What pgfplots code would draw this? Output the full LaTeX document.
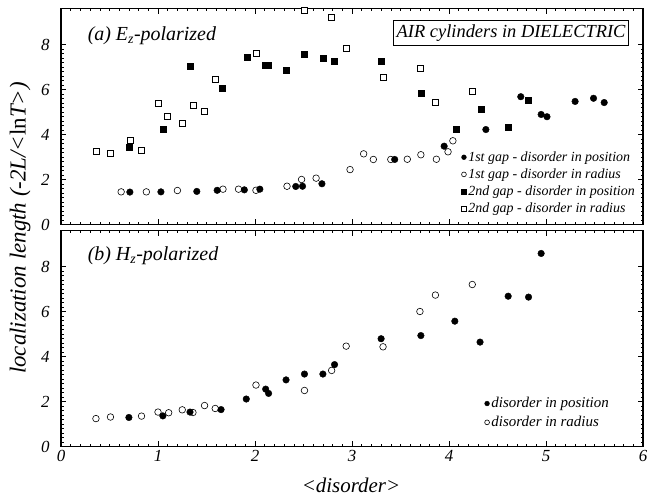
\documentclass[border=0pt]{standalone}
\usepackage{fontspec}
\setmainfont{Liberation Serif}
\usepackage{pgfplots}
\pgfplotsset{compat=1.18}
\begin{document}
\begin{tikzpicture}
\pgfplotsset{
 panel/.style={
  width=582bp, height=216bp, scale only axis,
  xmin=0, xmax=6, ymin=0, ymax=9.6,
  xtick={0,1,...,6}, ytick={0,2,4,6,8},
  yticklabels={0,2,4,6,8},
  minor x tick num=9, minor y tick num=9,
  tick align=inside, major tick length=5bp, minor tick length=2.5bp,
  tick style={black, line width=0.5pt},
  axis line style={line width=1.3pt},
  tick label style={font=\fontsize{17}{17}\selectfont\itshape},
  yticklabel style={xshift=-8bp},
  anchor=north west,
  clip=false,
  legend cell align=left,
  legend image code/.code={\draw[mark repeat=2,mark phase=2,##1,mark size=2.4bp] plot coordinates {(0cm,0cm)(0.12cm,0cm)(0.24cm,0cm)};},
 },
 pos1/.style={only marks, mark=*, mark size=3.3bp, mark options={draw=black, fill=black}},
 rad1/.style={only marks, mark=*, mark size=3.3bp, mark options={draw=black, fill=white, line width=0.6pt}},
 pos2/.style={only marks, mark=square*, mark size=3bp, mark options={draw=black, fill=black}},
 rad2/.style={only marks, mark=square*, mark size=3bp, mark options={draw=black, fill=white, line width=0.6pt}},
}
% ---------------- top panel ----------------
\begin{axis}[panel, at={(61bp,-8.5bp)}, xticklabels={},
  legend style={at={(rel axis cs:1,0)}, anchor=south east, xshift=-3bp, yshift=6bp,
    draw=none, fill=none, font=\fontsize{14}{14}\selectfont\itshape, row sep=2bp}]
\addplot[rad2, forget plot] coordinates {(0.36,3.24)(0.51,3.17)(0.71,3.72)(0.83,3.29)(1.00,5.38)(1.10,4.83)(1.25,4.48)(1.36,5.29)(1.48,5.05)(1.59,6.44)(2.01,7.60)(2.51,9.51)(2.79,9.19)(2.94,7.81)(3.32,6.56)(3.70,6.96)(3.86,5.45)(4.24,5.90)};
\addplot[pos2, forget plot] coordinates {(0.70,3.45)(1.05,4.22)(1.33,7.04)(1.66,6.06)(1.92,7.45)(2.11,7.10)(2.14,7.07)(2.32,6.84)(2.51,7.59)(2.70,7.38)(2.82,7.26)(3.30,7.26)(3.71,5.82)(4.07,4.22)(4.33,5.12)(4.61,4.32)(4.82,5.52)};
\addplot[rad1, forget plot] coordinates {(0.62,1.45)(0.88,1.45)(1.20,1.51)(1.67,1.57)(1.83,1.57)(2.01,1.52)(2.33,1.70)(2.48,2.00)(2.63,2.06)(2.98,2.44)(3.12,3.14)(3.22,2.89)(3.40,2.89)(3.57,2.90)(3.71,3.10)(3.87,2.90)(3.99,3.23)(4.04,3.72)};
\addplot[pos1, forget plot] coordinates {(0.71,1.44)(1.03,1.45)(1.40,1.47)(1.61,1.52)(1.89,1.54)(2.05,1.57)(2.42,1.69)(2.49,1.70)(2.69,1.81)(3.44,2.89)(3.95,3.48)(4.38,4.22)(4.74,5.68)(4.95,4.89)(5.01,4.79)(5.30,5.47)(5.49,5.61)(5.60,5.42)};
\addlegendimage{pos1}\addlegendentry{1st gap - disorder in position}
\addlegendimage{rad1}\addlegendentry{1st gap - disorder in radius}
\addlegendimage{pos2}\addlegendentry{2nd gap - disorder in position}
\addlegendimage{rad2}\addlegendentry{2nd gap - disorder in radius}
\node[anchor=west, font=\fontsize{20}{20}\selectfont\itshape] at (axis cs:0.24,8.4) {(a) E\textsubscript{z}-polarized};
\node[draw, line width=1.2pt, inner xsep=3bp, inner ysep=4bp, font=\fontsize{18.5}{18.5}\selectfont\itshape] at (axis cs:4.64,8.52) {AIR cylinders in DIELECTRIC};
\end{axis}
% ---------------- bottom panel ----------------
\begin{axis}[panel, at={(61bp,-230.5bp)}, xticklabels={0,1,2,3,4,5,6},
  legend style={at={(rel axis cs:1,0)}, anchor=south east, xshift=-29bp, yshift=14bp,
    draw=none, fill=none, font=\fontsize{15}{15}\selectfont\itshape, row sep=3bp}]
\addplot[rad1, forget plot] coordinates {(0.36,1.24)(0.51,1.31)(0.83,1.35)(1.00,1.53)(1.11,1.50)(1.25,1.63)(1.36,1.51)(1.48,1.82)(1.59,1.69)(2.01,2.73)(2.51,2.49)(2.79,3.38)(2.94,4.46)(3.32,4.43)(3.70,6.00)(3.86,6.73)(4.24,7.20)};
\addplot[pos1, forget plot] coordinates {(0.70,1.29)(1.05,1.36)(1.33,1.53)(1.65,1.64)(1.91,2.11)(2.11,2.55)(2.14,2.36)(2.32,2.96)(2.51,3.22)(2.70,3.22)(2.82,3.64)(3.30,4.79)(3.71,4.93)(4.06,5.57)(4.32,4.64)(4.61,6.68)(4.82,6.64)(4.95,8.58)};
\addlegendimage{pos1}\addlegendentry{disorder in position}
\addlegendimage{rad1}\addlegendentry{disorder in radius}
\node[anchor=west, font=\fontsize{20}{20}\selectfont\itshape] at (axis cs:0.24,8.48) {(b) H\textsubscript{z}-polarized};
\end{axis}
\node[rotate=90, font=\fontsize{23}{23}\selectfont\itshape] at (20bp,-228bp) {localization length (-2L/<\textup{ln}T>)};
\node[font=\fontsize{21}{21}\selectfont\itshape] at (351bp,-485bp) {<disorder>};
\pgfresetboundingbox
\path[use as bounding box] (0,0) rectangle (647bp,-496bp);
\end{tikzpicture}
\end{document}
